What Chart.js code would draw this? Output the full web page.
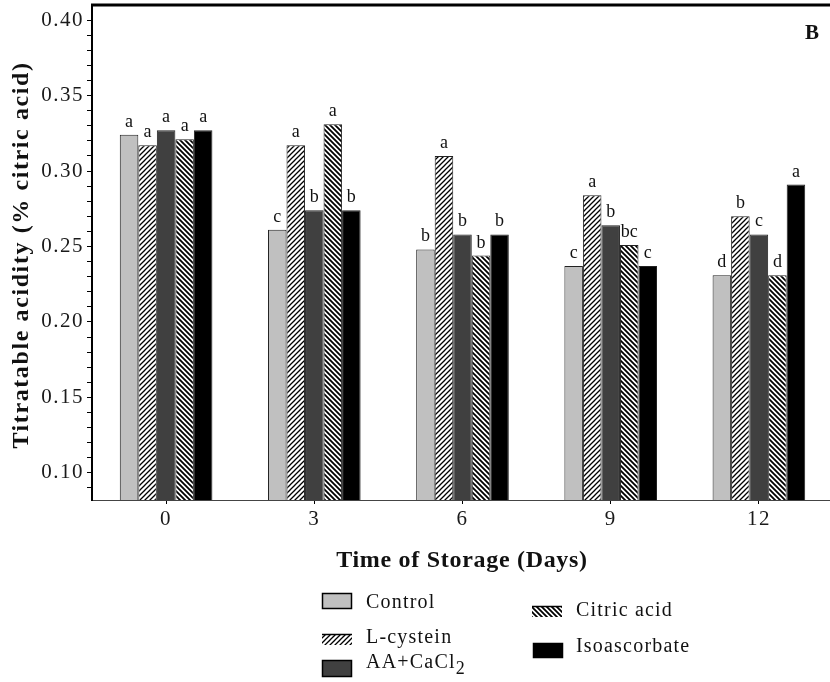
<!DOCTYPE html>
<html lang="en">
<head>
    <meta charset="UTF-8">
    <title>Titratable acidity</title>
    <style>
        html, body { margin: 0; padding: 0; background: #fff; overflow: hidden; }
        canvas { display: block; }
    </style>
</head>
<body>
    <canvas id="acidity-chart" width="833" height="682"></canvas>

    <script src="https://cdn.jsdelivr.net/npm/chart.js"></script>
    <script>
        // values (% citric acid)
        const days = ['0', '3', '6', '9', '12'];
        const control = [0.324, 0.261, 0.248, 0.237, 0.231];
        const lCystein = [0.317, 0.317, 0.310, 0.284, 0.270];
        const aaCaCl2 = [0.327, 0.274, 0.258, 0.264, 0.258];
        const citricAcid = [0.321, 0.331, 0.244, 0.251, 0.231];
        const isoascorbate = [0.327, 0.274, 0.258, 0.237, 0.291];

        // significance letters above each bar
        const controlLetters = ['a', 'c', 'b', 'c', 'd'];
        const lCysteinLetters = ['a', 'a', 'a', 'a', 'b'];
        const aaCaCl2Letters = ['a', 'b', 'b', 'b', 'c'];
        const citricLetters = ['a', 'a', 'b', 'bc', 'd'];
        const isoLetters = ['a', 'b', 'b', 'c', 'a'];

        const yTickLabels = [0.10, 0.15, 0.20, 0.25, 0.30, 0.35, 0.40];
        const xTitle = 'Time of Storage (Days)';
        const yTitle = 'Titratable acidity (% citric acid)';
        const panelLabel = 'B';

        const serif = "'Liberation Serif', 'Times New Roman', serif";

        function hatch(dir, lw) {
            const s = 5;
            const c = document.createElement('canvas');
            c.width = s; c.height = s;
            const g = c.getContext('2d');
            g.fillStyle = '#fff';
            g.fillRect(0, 0, s, s);
            g.strokeStyle = '#000';
            g.lineWidth = lw;
            g.beginPath();
            if (dir === '/') {
                for (const k of [0, s, 2 * s]) { g.moveTo(k + 1, -1); g.lineTo(-1, k + 1); }
            } else {
                for (const k of [-s, 0, s]) { g.moveTo(-1, k - 1); g.lineTo(s + 1, k + s + 1); }
            }
            g.stroke();
            return document.getElementById('acidity-chart').getContext('2d').createPattern(c, 'repeat');
        }

        // minor ticks every 0.01, labels only on the 0.05 steps
        const yMinor = [];
        for (let i = 9; i <= 40; i++) yMinor.push(i / 100);

        const decor = {
            id: 'decor',
            beforeDraw(chart) {
                chart.ctx.letterSpacing = '1.5px';
            },
            afterDatasetsDraw(chart) {
                const ctx = chart.ctx;
                ctx.save();
                ctx.letterSpacing = '0px';
                ctx.font = `18px ${serif}`;
                ctx.fillStyle = '#111';
                ctx.textAlign = 'center';
                ctx.textBaseline = 'alphabetic';
                chart.data.datasets.forEach((ds, i) => {
                    chart.getDatasetMeta(i).data.forEach((bar, j) => {
                        ctx.fillText(ds.letters[j], bar.x, bar.y - 8);
                    });
                });
                ctx.restore();
            },
            afterDraw(chart) {
                const ctx = chart.ctx;
                const a = chart.chartArea;
                ctx.save();

                // heavy top frame
                ctx.strokeStyle = '#000';
                ctx.lineWidth = 3;
                ctx.beginPath();
                ctx.moveTo(a.left - 1, a.top);
                ctx.lineTo(a.right, a.top);
                ctx.stroke();

                ctx.fillStyle = '#111';
                ctx.textBaseline = 'alphabetic';

                // panel letter
                ctx.letterSpacing = '0px';
                ctx.font = `bold 21px ${serif}`;
                ctx.textAlign = 'left';
                ctx.fillText(panelLabel, 805, 39);

                // x title
                ctx.letterSpacing = '0.7px';
                ctx.font = `bold 24px ${serif}`;
                ctx.textAlign = 'center';
                ctx.fillText(xTitle, 462, 567);

                // y title
                ctx.save();
                ctx.translate(28, 255);
                ctx.rotate(-Math.PI / 2);
                ctx.letterSpacing = '1.6px';
                ctx.fillText(yTitle, 0, 0);
                ctx.restore();

                // legend
                const slots = [
                    { x: 322, y: 593, h: 16, tx: 366, ty: 608, border: true },
                    { x: 322, y: 634, h: 11, tx: 366, ty: 643, border: false },
                    { x: 322, y: 660, h: 17, tx: 366, ty: 668, border: true },
                    { x: 532, y: 606, h: 11, tx: 576, ty: 616, border: false },
                    { x: 533, y: 643, h: 15, tx: 576, ty: 652, border: true }
                ];
                ctx.textAlign = 'left';
                chart.data.datasets.forEach((ds, i) => {
                    const s = slots[i];
                    ctx.fillStyle = ds.backgroundColor;
                    ctx.fillRect(s.x, s.y, 30, s.h);
                    ctx.strokeStyle = '#000';
                    ctx.lineWidth = 1.5;
                    if (s.border) {
                        ctx.strokeRect(s.x + 0.5, s.y + 0.5, 29, s.h - 1);
                    } else {
                        ctx.beginPath();
                        ctx.moveTo(s.x, s.y + 0.5);
                        ctx.lineTo(s.x + 30, s.y + 0.5);
                        ctx.stroke();
                    }
                    ctx.fillStyle = '#111';
                    ctx.letterSpacing = '1.2px';
                    ctx.font = `20px ${serif}`;
                    let label = ds.label;
                    if (label.endsWith('₂')) {
                        label = label.slice(0, -1);
                        ctx.fillText(label, s.tx, s.ty);
                        const w = ctx.measureText(label).width;
                        ctx.font = `18px ${serif}`;
                        ctx.fillText('2', s.tx + w, s.ty + 6);
                    } else {
                        ctx.fillText(label, s.tx, s.ty);
                    }
                });
                ctx.restore();
            }
        };

        const ctx = document.getElementById('acidity-chart').getContext('2d');
        const barBorder = '#222';

        new Chart(ctx, {
            type: 'bar',
            data: {
                labels: days,
                datasets: [
                    { label: 'Control', data: control, letters: controlLetters, backgroundColor: '#c0c0c0' },
                    { label: 'L-cystein', data: lCystein, letters: lCysteinLetters, backgroundColor: hatch('/', 1.3) },
                    { label: 'AA+CaCl₂', data: aaCaCl2, letters: aaCaCl2Letters, backgroundColor: '#404040' },
                    { label: 'Citric acid', data: citricAcid, letters: citricLetters, backgroundColor: hatch('\\', 1.8) },
                    { label: 'Isoascorbate', data: isoascorbate, letters: isoLetters, backgroundColor: '#000' }
                ].map(d => Object.assign(d, {
                    borderColor: barBorder,
                    borderWidth: 1,
                    borderSkipped: 'bottom',
                    categoryPercentage: 0.625,
                    barPercentage: 1.0
                }))
            },
            options: {
                responsive: false,
                animation: false,
                devicePixelRatio: 1,
                layout: { padding: { top: 5, right: 0, left: 0, bottom: 0 } },
                plugins: {
                    legend: { display: false },
                    tooltip: { enabled: false }
                },
                scales: {
                    x: {
                        offset: true,
                        grid: { display: true, offset: false, drawOnChartArea: false, tickLength: 4, color: '#000' },
                        border: { display: true, color: '#444', width: 1 },
                        ticks: { font: { family: serif, size: 21 }, color: '#1a1a1a', padding: 3, maxRotation: 0 },
                        afterFit: s => { s.height = 182; s.paddingLeft = 0; s.paddingRight = 0; }
                    },
                    y: {
                        min: 0.082,
                        max: 0.41,
                        afterBuildTicks: s => { s.ticks = yMinor.map(v => ({ value: v })); },
                        grid: { display: true, drawOnChartArea: false, tickLength: 5, color: '#000' },
                        border: { display: true, color: '#000', width: 2 },
                        ticks: {
                            font: { family: serif, size: 21 },
                            color: '#1a1a1a',
                            padding: 3,
                            autoSkip: false,
                            callback: v => yTickLabels.some(t => Math.abs(t - v) < 1e-6) ? v.toFixed(2) : ''
                        },
                        afterFit: s => { s.width = 92; s.paddingTop = 0; s.paddingBottom = 0; }
                    }
                }
            },
            plugins: [decor]
        });
    </script>
</body>
</html>
